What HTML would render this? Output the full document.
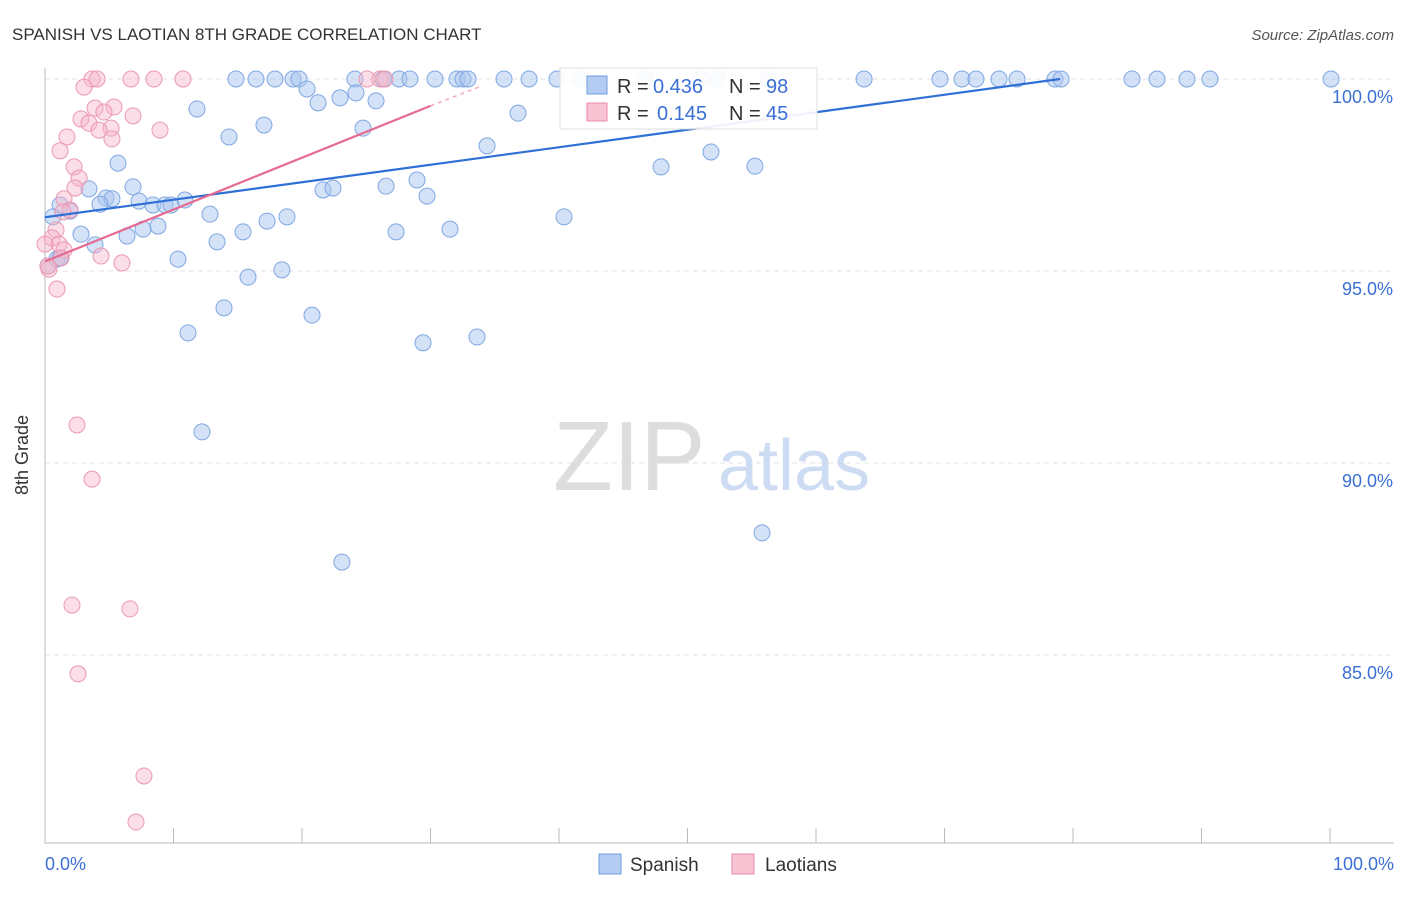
<!DOCTYPE html>
<html><head><meta charset="utf-8"><style>
body{margin:0;background:#fff;font-family:"Liberation Sans",sans-serif;}
svg text{font-family:"Liberation Sans",sans-serif;}
</style></head><body>
<svg id="c" width="1406" height="892" xmlns="http://www.w3.org/2000/svg">
<text x="12" y="40" font-size="17" fill="#333">SPANISH VS LAOTIAN 8TH GRADE CORRELATION CHART</text>
<text x="1394" y="40" font-size="15" fill="#555" font-style="italic" text-anchor="end">Source: ZipAtlas.com</text>
<g id="grid"></g>
<text x="553" y="490" font-size="98" fill="#ddd" font-family="Liberation Serif">ZIP</text>
<text x="718" y="490" font-size="72" fill="#cddcf2">atlas</text>
<g id="pts"></g>
<g id="lines"></g>
<text x="28" y="455" font-size="18" fill="#333" transform="rotate(-90 28 455)" text-anchor="middle">8th Grade</text>
<g>
<rect x="560" y="68" width="257" height="61" fill="#fff" stroke="#ddd" opacity="0.92"/>
<rect x="587" y="76" width="20" height="18" fill="#b3cdf2" stroke="#6f9de0"/>
<text x="617" y="93" font-size="20" fill="#333">R =</text>
<text x="653" y="93" font-size="20" fill="#3b6fd4">0.436</text>
<text x="729" y="93" font-size="20" fill="#333">N =</text>
<text x="766" y="93" font-size="20" fill="#3b6fd4">98</text>
<rect x="587" y="103" width="20" height="18" fill="#f8c3d3" stroke="#e88aa8"/>
<text x="617" y="120" font-size="20" fill="#333">R =</text>
<text x="657" y="120" font-size="20" fill="#3b6fd4">0.145</text>
<text x="729" y="120" font-size="20" fill="#333">N =</text>
<text x="766" y="120" font-size="20" fill="#3b6fd4">45</text>
</g>
<g>
<rect x="599" y="854" width="22" height="20" fill="#b3cdf2" stroke="#6f9de0"/>
<text x="630" y="871" font-size="19" fill="#333">Spanish</text>
<rect x="732" y="854" width="22" height="20" fill="#f8c3d3" stroke="#e88aa8"/>
<text x="765" y="871" font-size="19" fill="#333">Laotians</text>
</g>
<text x="45" y="870" font-size="18" fill="#3b6fd4">0.0%</text>
<text x="1394" y="870" font-size="18" fill="#3b6fd4" text-anchor="end">100.0%</text>
</svg>
<script>
const yTicks=[100,95,90,85];
const yTickLabels=["100.0%","95.0%","90.0%","85.0%"];
const xTicks=[0,10,20,30,40,50,60,70,80,90,100];
const spanishPx=[[236,79],[256,79],[275,79],[293,79],[299,79],[355,79],[383,79],[399,79],[410,79],[435,79],[457,79],[463,79],[468,79],[504,79],[529,79],[557,79],[580,79],[645,79],[701,79],[718,79],[768,79],[864,79],[940,79],[962,79],[976,79],[999,79],[1017,79],[1055,79],[1061,79],[1132,79],[1157,79],[1187,79],[1210,79],[1331,79],[307,89],[197,109],[318,103],[340,98],[356,93],[376,101],[518,113],[264,125],[363,128],[229,137],[487,146],[118,163],[711,152],[661,167],[755,166],[133,187],[89,189],[106,198],[112,199],[100,204],[139,201],[153,205],[165,205],[171,205],[185,200],[323,190],[333,188],[386,186],[417,180],[427,196],[60,205],[70,211],[53,217],[210,214],[287,217],[267,221],[564,217],[158,226],[143,229],[127,236],[81,234],[243,232],[217,242],[396,232],[450,229],[95,245],[57,259],[178,259],[282,270],[248,277],[224,308],[312,315],[188,333],[423,343],[477,337],[202,432],[762,533],[342,562],[48,266],[60,258]];
const laoPx=[[92,79],[97,79],[131,79],[154,79],[183,79],[367,79],[380,79],[385,79],[84,87],[95,108],[114,107],[104,112],[133,116],[81,119],[89,123],[111,128],[99,130],[160,130],[67,137],[112,139],[60,151],[74,167],[79,178],[75,188],[64,199],[70,210],[63,212],[56,230],[52,238],[59,244],[45,244],[64,250],[101,256],[61,258],[122,263],[49,269],[57,289],[77,425],[92,479],[72,605],[130,609],[78,674],[144,776],[136,822],[48,266]];
const spanishX=spanishPx.map(p=>+((p[0]-45)/12.85).toFixed(2));
const spanishY=spanishPx.map(p=>+(100-(p[1]-79)/38.4).toFixed(2));
const laoX=laoPx.map(p=>+((p[0]-45)/12.85).toFixed(2));
const laoY=laoPx.map(p=>+(100-(p[1]-79)/38.4).toFixed(2));
const blueTrend=[[0,96.4],[79,100]];
const pinkTrend=[[0,95.25],[30,99.3]];
const pinkDash=[[30,99.3],[34,99.82]];
const X=v=>45+v*12.85, Y=v=>79+(100-v)*38.4;
const NS="http://www.w3.org/2000/svg";
function mk(t,a,parent){const e=document.createElementNS(NS,t);for(const k in a)e.setAttribute(k,a[k]);document.getElementById(parent).appendChild(e);return e;}
yTicks.forEach((t,i)=>{
 const g=mk('line',{x1:45,x2:1394,y1:Y(t),y2:Y(t),stroke:'#e3e3e3','stroke-dasharray':'5,4'},'grid');
 
 
 const l=mk('text',{x:1393,y:Y(t)+24,'font-size':18,fill:'#3b6fd4','text-anchor':'end'},'grid');
 l.textContent=yTickLabels[i];
 
 
});
const ax=mk('line',{x1:45,x2:45,y1:68,y2:843,stroke:'#bbb'},'grid');


const bx=mk('line',{x1:45,x2:1394,y1:843,y2:843,stroke:'#bbb'},'grid');


xTicks.forEach(t=>{const e=mk('line',{x1:X(t),x2:X(t),y1:828,y2:843,stroke:'#bbb'},'grid');
 
 });
spanishX.forEach((x,i)=>{const c=mk('circle',{cx:X(x),cy:Y(spanishY[i]),r:8,fill:'#a9c6f0','fill-opacity':0.5,stroke:'#7fa7e3','stroke-width':1},'pts');
 
 });
laoX.forEach((x,i)=>{const c=mk('circle',{cx:X(x),cy:Y(laoY[i]),r:8,fill:'#f6b6ca','fill-opacity':0.45,stroke:'#eb98b3','stroke-width':1},'pts');
 
 });
const bl=mk('line',{x1:X(blueTrend[0][0]),y1:Y(blueTrend[0][1]),x2:X(blueTrend[1][0]),y2:Y(blueTrend[1][1]),stroke:'#2f6fd6','stroke-width':2.2},'lines');


const pl=mk('line',{x1:X(pinkTrend[0][0]),y1:Y(pinkTrend[0][1]),x2:X(pinkTrend[1][0]),y2:Y(pinkTrend[1][1]),stroke:'#e56b93','stroke-width':2.2},'lines');


const pd=mk('line',{x1:X(pinkDash[0][0]),y1:Y(pinkDash[0][1]),x2:X(pinkDash[1][0]),y2:Y(pinkDash[1][1]),stroke:'#f0a8c0','stroke-width':1.5,'stroke-dasharray':'4,4'},'lines');


</script>
</body></html>
